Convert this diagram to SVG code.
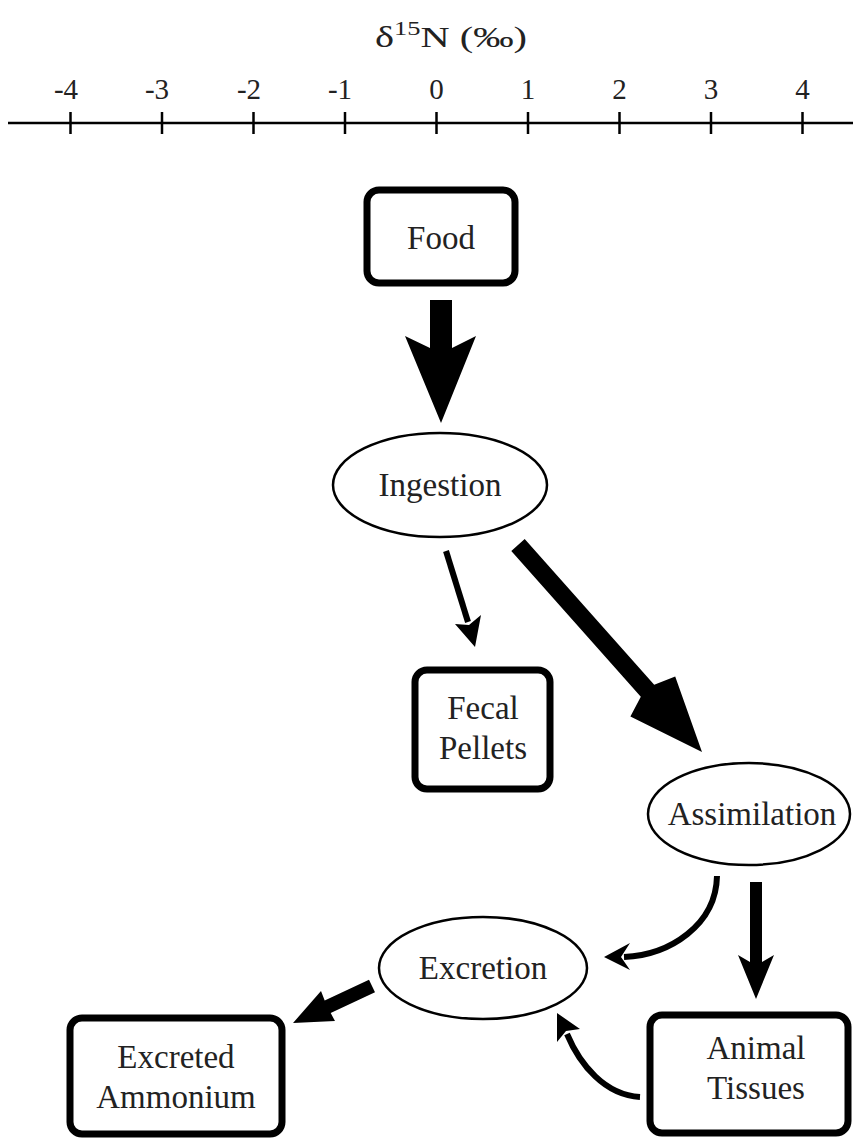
<svg xmlns="http://www.w3.org/2000/svg" width="853" height="1139" viewBox="0 0 853 1139">
<style>
.box{fill:#fff;stroke:#000;stroke-width:7}
.ell{fill:#fff;stroke:#000;stroke-width:2.5}
.t{font-family:"Liberation Serif","Times New Roman",serif;font-size:33px;fill:#222;text-anchor:middle}
.ax{font-family:"Liberation Serif","Times New Roman",serif;font-size:29px;fill:#222;text-anchor:middle}
.ln{fill:none;stroke:#000;stroke-width:6}
.tick{stroke:#000;stroke-width:2.5}
</style>
<rect width="853" height="1139" fill="#fff"/>
<g id="axis">
<text class="ax" x="451" y="47" font-size="32" textLength="152" lengthAdjust="spacingAndGlyphs">δ<tspan font-size="19" dy="-12">15</tspan><tspan dy="12">N (‰)</tspan></text>
<line x1="8" y1="123" x2="853" y2="123" class="tick"/>
<g class="tick">
<line x1="70.5" y1="112" x2="70.5" y2="134"/>
<line x1="162" y1="112" x2="162" y2="134"/>
<line x1="253.5" y1="112" x2="253.5" y2="134"/>
<line x1="345" y1="112" x2="345" y2="134"/>
<line x1="436.5" y1="112" x2="436.5" y2="134"/>
<line x1="528" y1="112" x2="528" y2="134"/>
<line x1="619.5" y1="112" x2="619.5" y2="134"/>
<line x1="711" y1="112" x2="711" y2="134"/>
<line x1="802.5" y1="112" x2="802.5" y2="134"/>
</g>
<text class="ax" x="66" y="99">-4</text>
<text class="ax" x="157" y="99">-3</text>
<text class="ax" x="249" y="99">-2</text>
<text class="ax" x="340" y="99">-1</text>
<text class="ax" x="436.5" y="99">0</text>
<text class="ax" x="528" y="99">1</text>
<text class="ax" x="619.5" y="99">2</text>
<text class="ax" x="711" y="99">3</text>
<text class="ax" x="802.5" y="99">4</text>
</g>
<g id="connectors">
<polygon points="430,300 452,300 452,348 476,336 441,423 405,336 430,348"/>
<line class="ln" x1="446" y1="551" x2="468" y2="622"/>
<polygon points="475,647 481,615 469,625 455,624"/>
<polygon points="524.7,539 654.2,684.7 675.2,676.6 702,752 630.4,716.6 640.8,696.7 511.3,551"/>
<path class="ln" d="M717,876 C716,925 670,955 624,957"/>
<polygon points="604,957 630,943 621,957 630,970"/>
<polygon points="750,882 762,882 762,962 774,955 756,999 738,955 750,962"/>
<path class="ln" d="M640,1097 C605,1095 580,1065 567,1034"/>
<polygon points="557,1013 580,1029 566,1031 557,1042"/>
<polygon points="375,992.3 330.7,1013.1 335,1021 293,1023 321,991 324.7,1000.5 369,979.7"/>
</g>
<g id="food">
<rect class="box" x="367" y="190" width="148" height="93" rx="12"/>
<text class="t" x="441" y="249">Food</text>
</g>
<g id="ingestion">
<ellipse class="ell" cx="440" cy="485" rx="107" ry="52"/>
<text class="t" x="440" y="496">Ingestion</text>
</g>
<g id="fecal">
<rect class="box" x="415" y="670" width="135" height="119" rx="12"/>
<text class="t" x="483" y="719">Fecal</text>
<text class="t" x="483" y="759">Pellets</text>
</g>
<g id="assimilation">
<ellipse class="ell" cx="749" cy="814" rx="101" ry="51"/>
<text class="t" x="752" y="825">Assimilation</text>
</g>
<g id="excretion">
<ellipse class="ell" cx="483" cy="968" rx="104" ry="51"/>
<text class="t" x="483" y="979">Excretion</text>
</g>
<g id="tissues">
<rect class="box" x="650" y="1015" width="198" height="118" rx="12"/>
<text class="t" x="756" y="1059">Animal</text>
<text class="t" x="756" y="1099">Tissues</text>
</g>
<g id="ammonium">
<rect class="box" x="70" y="1018" width="212" height="116" rx="12"/>
<text class="t" x="176" y="1068">Excreted</text>
<text class="t" x="176" y="1108">Ammonium</text>
</g>
</svg>
